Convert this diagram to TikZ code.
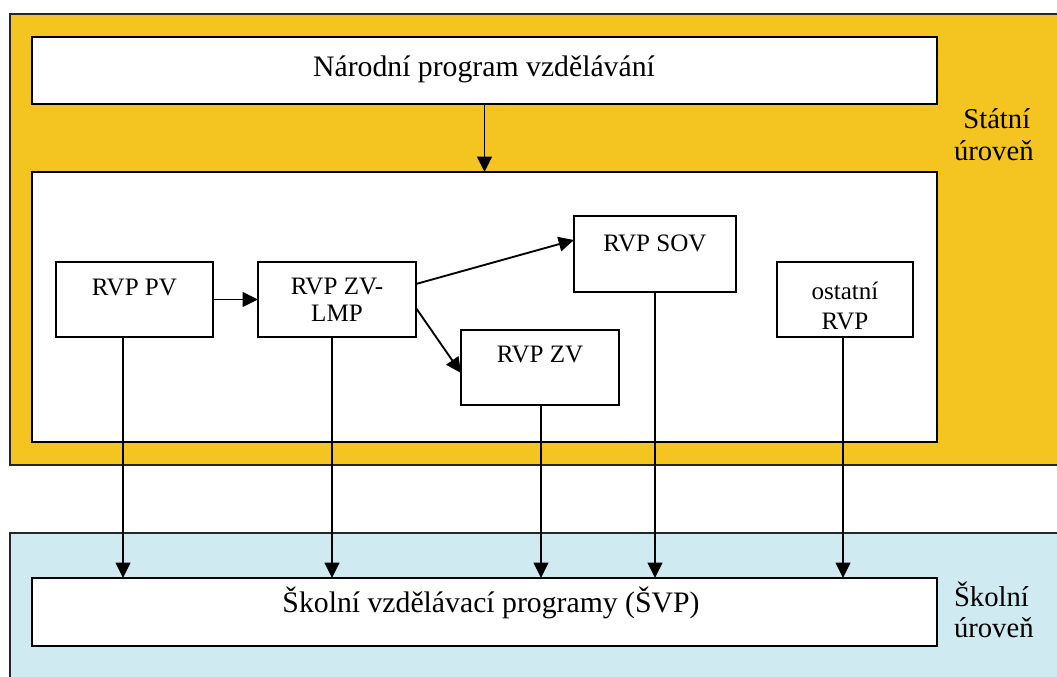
\documentclass[tikz,border=0pt]{standalone}
\usepackage{fontspec}
\setmainfont{Liberation Serif}
\usetikzlibrary{arrows.meta}
\definecolor{statefill}{HTML}{F4C520}
\definecolor{schoolfill}{HTML}{CFEAF0}
\tikzset{
  every node/.style={font=\fontsize{18.8pt}{20.3pt}\selectfont, inner sep=0pt, outer sep=0pt},
  box/.style={draw=black, line width=1.3pt, fill=white},
  levelbox/.style={draw=black!85, line width=1.1pt},
  arr/.style={line width=1.4pt, -{Triangle[length=11.5pt,width=11pt]}},
  bigtext/.style={font=\fontsize{22.3pt}{24pt}\selectfont},
  sidelabel/.style={font=\fontsize{21.5pt}{23.5pt}\selectfont, align=left, anchor=north west},
}
\begin{document}
\begin{tikzpicture}[x=0.75pt, y=-0.75pt]
\useasboundingbox (0,0) rectangle (1057,677);

% level backgrounds
\draw[levelbox, fill=statefill] (10,14) rectangle (1062,465);
\draw[levelbox, fill=schoolfill] (10,533) rectangle (1062,682);

% main boxes
\node[box, minimum width=905*0.75pt, minimum height=67*0.75pt] (nar) at (484.5,70.5) {};
\node[box, minimum width=905*0.75pt, minimum height=270*0.75pt] (inner) at (484.5,307) {};
\node[box, minimum width=905*0.75pt, minimum height=68*0.75pt] (svp) at (484.5,612) {};

% framework programmes
\node[box, minimum width=157*0.75pt, minimum height=75*0.75pt] (pv) at (134.5,299.5) {};
\node[box, minimum width=158*0.75pt, minimum height=75*0.75pt] (lmp) at (337,299.5) {};
\node[box, minimum width=162*0.75pt, minimum height=76*0.75pt] (sov) at (655,254) {};
\node[box, minimum width=158*0.75pt, minimum height=75*0.75pt] (zv) at (540,367.5) {};
\node[box, minimum width=136*0.75pt, minimum height=75*0.75pt] (ost) at (845,299.5) {};

% texts
\node[bigtext, anchor=base] (tnar) at (484,77) {Národní program vzdělávání};
\node[bigtext, anchor=base] (tsvp) at (491,612) {Školní vzdělávací programy (ŠVP)};
\node[anchor=base] (tpv) at (134.5,296) {RVP PV};
\node[anchor=north, align=center] (tlmp) at (337,278) {RVP ZV-\\LMP};
\node[anchor=base] (tsov) at (655,252) {RVP SOV};
\node[anchor=base] (tzv) at (540,363) {RVP ZV};
\node[anchor=north, align=center, font=\fontsize{18.8pt}{22.5pt}\selectfont] (tost) at (845,282) {ostatní\\RVP};
\node[sidelabel] (tstate) at (954,109) {\hspace*{7pt}Státní\\úroveň};
\node[sidelabel] (tschool) at (954,582) {Školní\\úroveň};

% arrows inside the state level
\draw[arr] (nar.south) -- (inner.north);
\draw[arr] (pv.east) -- (lmp.west);
\coordinate (lmpa) at (416,284);
\coordinate (lmpb) at (416,308);
\coordinate (sovin) at (574,240);
\coordinate (zvin) at (461,373);
\draw[arr] (lmpa) -- (sovin);
\draw[arr] (lmpb) -- (zvin);

% arrows down to the school level
\coordinate (c1) at (123,0);
\coordinate (c2) at (332,0);
\coordinate (c3) at (541,0);
\coordinate (c4) at (655,0);
\coordinate (c5) at (843,0);
\draw[arr] (pv.south -| c1) -- (svp.north -| c1);
\draw[arr] (lmp.south -| c2) -- (svp.north -| c2);
\draw[arr] (zv.south -| c3) -- (svp.north -| c3);
\draw[arr] (sov.south -| c4) -- (svp.north -| c4);
\draw[arr] (ost.south -| c5) -- (svp.north -| c5);
\end{tikzpicture}
\end{document}
